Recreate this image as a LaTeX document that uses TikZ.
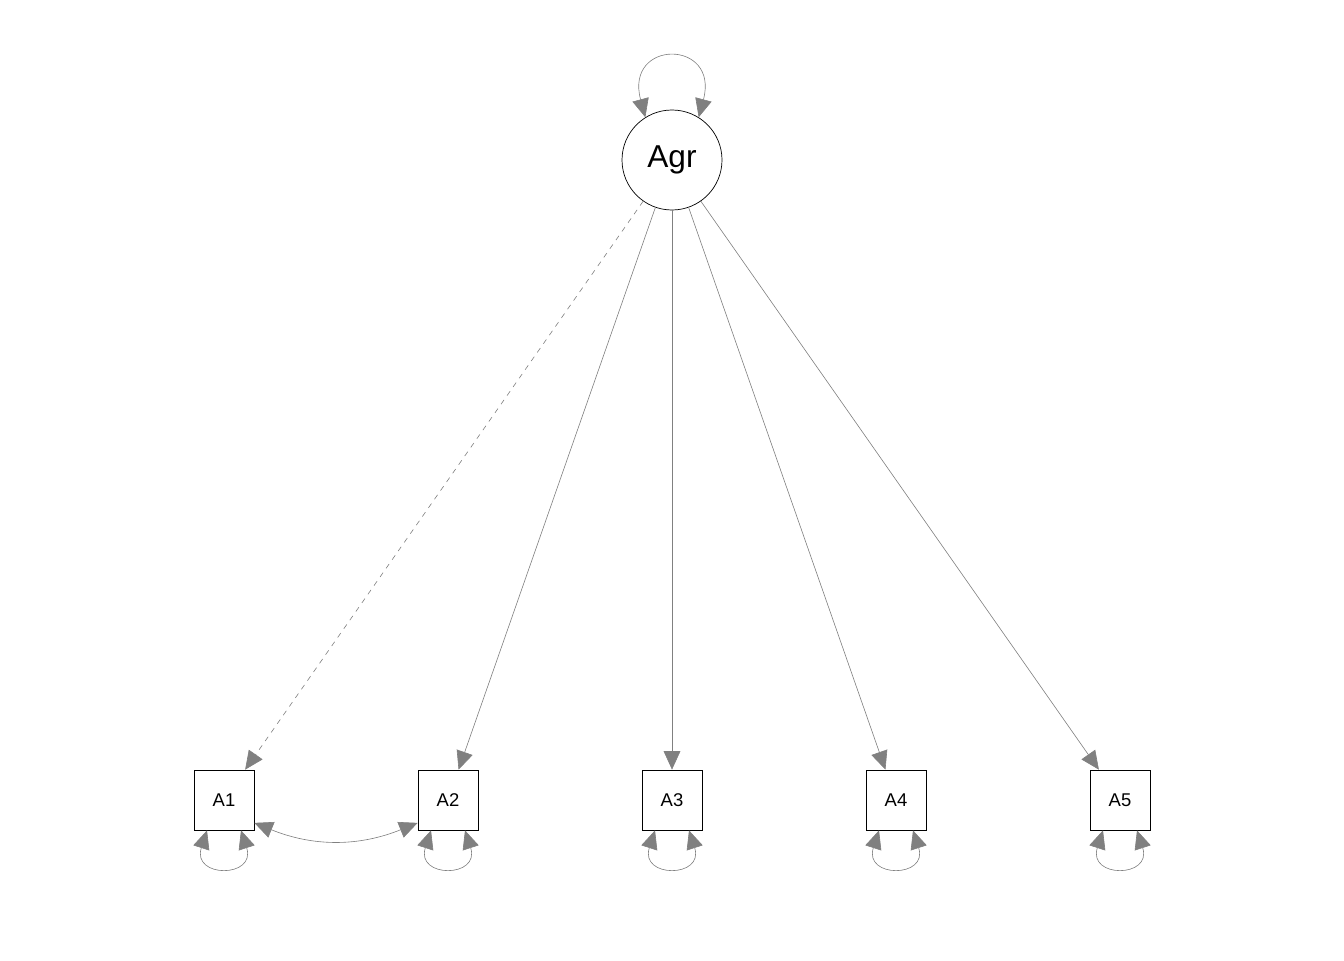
\documentclass[tikz,border=0pt]{standalone}
\usepackage{fontspec}
\setmainfont{Liberation Sans}
\usetikzlibrary{positioning,arrows.meta}

\begin{document}
\begin{tikzpicture}[
        node distance = 4.48cm,
        latent/.style = {circle, draw, thin, minimum size=2cm, inner sep=0pt, font=\fontsize{18}{20}\selectfont},
        manifest/.style = {rectangle, draw, thin, minimum size=1.2cm, inner sep=0pt, font=\fontsize{10.5}{12}\selectfont},
        line/.style = {draw, gray, line width=0.35pt, -{Triangle[length=10.5pt, width=9.5pt]}},
        varloop/.style = {draw, gray, line width=0.35pt, {Triangle[length=10.5pt, width=9.5pt]}-{Triangle[length=10.5pt, width=9.5pt]}},
        cov/.style = {varloop, bend right=22}
    ]
    \useasboundingbox (0,0) rectangle (26.88,-19.2);

    \node [latent] (agr) at (13.44,-3.2) {Agr};
    \node [manifest, below of=agr, node distance=12.8cm] (a3) {A3};
    \node [manifest, left of=a3] (a2) {A2};
    \node [manifest, left of=a2] (a1) {A1};
    \node [manifest, right of=a3] (a4) {A4};
    \node [manifest, right of=a4] (a5) {A5};

    % loadings
    \path [line, dashed] (agr) -- (a1);
    \path [line] (agr) -- (a2);
    \path [line] (agr) -- (a3);
    \path [line] (agr) -- (a4);
    \path [line] (agr) -- (a5);

    % residual covariance
    \path [cov] (a1.-37) to (a2.-143);

    % variances
    \path [varloop] (agr.122) to[out=105, in=75, looseness=3.9] (agr.58);
    \foreach \n in {a1,a2,a3,a4,a5} {
        \path [varloop] ([xshift=-0.34cm]\n.south) to[out=-108, in=-72, looseness=3.8] ([xshift=0.34cm]\n.south);
    }

\end{tikzpicture}
\end{document}
